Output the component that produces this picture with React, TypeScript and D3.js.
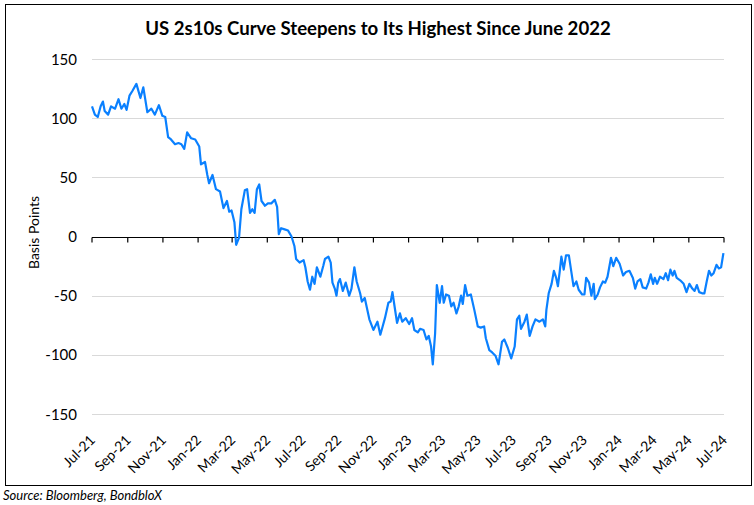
import React, { useEffect, useRef } from 'react';
import * as d3 from 'd3';

// US 2s10s spread (bp)
const spread2s10s: [string, number][] = [
  ['2021-07-01', 110], ['2021-07-06', 103], ['2021-07-11', 101], ['2021-07-16', 110], ['2021-07-20', 114],
  ['2021-07-23', 106], ['2021-07-29', 103], ['2021-08-03', 110], ['2021-08-10', 108], ['2021-08-16', 116],
  ['2021-08-21', 108], ['2021-08-26', 112], ['2021-08-30', 107], ['2021-09-04', 119], ['2021-09-09', 123],
  ['2021-09-16', 129], ['2021-09-23', 117], ['2021-09-28', 126], ['2021-10-05', 105], ['2021-10-12', 108],
  ['2021-10-18', 103], ['2021-10-25', 111], ['2021-10-31', 102], ['2021-11-05', 101], ['2021-11-10', 84],
  ['2021-11-15', 82], ['2021-11-22', 78], ['2021-11-28', 79], ['2021-12-03', 78], ['2021-12-08', 74],
  ['2021-12-13', 88], ['2021-12-20', 83], ['2021-12-27', 82],
  ['2022-01-03', 76], ['2022-01-06', 61], ['2022-01-13', 63], ['2022-01-17', 52], ['2022-01-20', 45],
  ['2022-01-26', 52], ['2022-02-01', 40], ['2022-02-08', 38], ['2022-02-14', 24], ['2022-02-20', 30],
  ['2022-02-24', 21], ['2022-02-28', 22], ['2022-03-05', 12], ['2022-03-08', -7], ['2022-03-13', -1],
  ['2022-03-17', 23], ['2022-03-23', 39], ['2022-03-27', 40], ['2022-04-01', 20], ['2022-04-05', 23],
  ['2022-04-09', 20], ['2022-04-13', 40], ['2022-04-17', 44], ['2022-04-21', 30], ['2022-04-27', 26],
  ['2022-05-02', 28], ['2022-05-08', 28], ['2022-05-14', 31], ['2022-05-18', 25], ['2022-05-21', 2],
  ['2022-05-25', 7], ['2022-05-31', 6], ['2022-06-06', 5], ['2022-06-12', 0], ['2022-06-17', -8],
  ['2022-06-20', -19], ['2022-06-26', -22], ['2022-07-03', -20], ['2022-07-06', -26], ['2022-07-10', -38],
  ['2022-07-14', -45], ['2022-07-18', -34], ['2022-07-22', -40], ['2022-07-26', -26], ['2022-08-01', -34],
  ['2022-08-06', -25], ['2022-08-09', -19], ['2022-08-15', -17], ['2022-08-19', -22], ['2022-08-22', -39],
  ['2022-08-26', -44], ['2022-08-29', -50], ['2022-09-01', -39], ['2022-09-04', -36], ['2022-09-09', -46],
  ['2022-09-14', -39], ['2022-09-20', -50], ['2022-09-24', -44], ['2022-09-29', -26], ['2022-10-03', -38],
  ['2022-10-09', -48], ['2022-10-12', -55], ['2022-10-17', -52], ['2022-10-25', -70], ['2022-11-01', -79],
  ['2022-11-08', -72], ['2022-11-13', -83], ['2022-11-17', -76], ['2022-11-21', -69], ['2022-11-27', -56],
  ['2022-12-01', -55], ['2022-12-04', -47], ['2022-12-08', -60], ['2022-12-12', -73], ['2022-12-17', -65],
  ['2022-12-21', -72], ['2022-12-27', -69],
  ['2023-01-02', -74], ['2023-01-07', -69], ['2023-01-11', -79], ['2023-01-17', -81], ['2023-01-21', -78],
  ['2023-01-27', -79], ['2023-02-01', -87], ['2023-02-05', -84], ['2023-02-09', -93], ['2023-02-12', -108],
  ['2023-02-16', -82], ['2023-02-19', -41], ['2023-02-24', -56], ['2023-02-28', -42], ['2023-03-03', -56],
  ['2023-03-07', -49], ['2023-03-12', -50], ['2023-03-16', -59], ['2023-03-20', -56], ['2023-03-25', -65],
  ['2023-03-29', -59], ['2023-04-02', -50], ['2023-04-05', -57], ['2023-04-09', -41], ['2023-04-13', -50],
  ['2023-04-19', -49], ['2023-04-25', -62], ['2023-05-01', -76], ['2023-05-06', -77], ['2023-05-12', -76],
  ['2023-05-15', -86], ['2023-05-21', -96], ['2023-05-26', -98], ['2023-06-01', -101], ['2023-06-06', -108],
  ['2023-06-12', -89], ['2023-06-16', -87], ['2023-06-22', -94], ['2023-06-28', -103], ['2023-07-04', -93],
  ['2023-07-08', -70], ['2023-07-12', -67], ['2023-07-15', -78], ['2023-07-21', -72], ['2023-07-25', -66],
  ['2023-07-30', -84], ['2023-08-04', -76], ['2023-08-09', -70], ['2023-08-16', -72], ['2023-08-22', -70],
  ['2023-08-26', -76], ['2023-08-28', -62], ['2023-09-01', -48], ['2023-09-06', -40], ['2023-09-10', -29],
  ['2023-09-14', -35], ['2023-09-17', -42], ['2023-09-20', -30], ['2023-09-23', -17], ['2023-09-27', -28],
  ['2023-10-01', -16], ['2023-10-06', -16], ['2023-10-10', -29], ['2023-10-14', -42], ['2023-10-19', -38],
  ['2023-10-23', -45], ['2023-10-29', -49], ['2023-11-02', -49], ['2023-11-05', -35], ['2023-11-10', -39],
  ['2023-11-14', -50], ['2023-11-18', -40], ['2023-11-20', -53], ['2023-11-25', -49], ['2023-11-29', -43],
  ['2023-12-04', -38], ['2023-12-08', -39], ['2023-12-12', -34], ['2023-12-18', -18], ['2023-12-22', -25],
  ['2023-12-27', -18],
  ['2024-01-02', -23], ['2024-01-08', -33], ['2024-01-13', -30], ['2024-01-19', -29], ['2024-01-25', -35],
  ['2024-01-29', -44], ['2024-02-02', -38], ['2024-02-07', -36], ['2024-02-11', -43], ['2024-02-17', -44],
  ['2024-02-21', -39], ['2024-02-25', -32], ['2024-02-29', -40], ['2024-03-03', -35], ['2024-03-07', -40],
  ['2024-03-12', -34], ['2024-03-18', -36], ['2024-03-22', -31], ['2024-03-26', -37], ['2024-03-30', -28],
  ['2024-04-03', -33], ['2024-04-06', -29], ['2024-04-10', -35], ['2024-04-16', -37], ['2024-04-22', -40],
  ['2024-04-27', -47], ['2024-05-02', -40], ['2024-05-07', -44], ['2024-05-11', -46], ['2024-05-15', -41],
  ['2024-05-19', -47], ['2024-05-24', -48], ['2024-05-28', -48], ['2024-06-01', -38], ['2024-06-05', -29],
  ['2024-06-09', -33], ['2024-06-13', -31], ['2024-06-18', -24], ['2024-06-22', -27], ['2024-06-26', -26],
  ['2024-06-30', -14],
];

const yTicks = [-150, -100, -50, 0, 50, 100, 150];

const xTickDates = [
  '2021-07-01', '2021-09-01', '2021-11-01', '2022-01-01', '2022-03-01', '2022-05-01', '2022-07-01',
  '2022-09-01', '2022-11-01', '2023-01-01', '2023-03-01', '2023-05-01', '2023-07-01', '2023-09-01',
  '2023-11-01', '2024-01-01', '2024-03-01', '2024-05-01', '2024-07-01',
];

const title = 'US 2s10s Curve Steepens to Its Highest Since June 2022';
const yLabel = 'Basis Points';
const source = 'Source: Bloomberg, BondbloX';

const W = 754;
const H = 505;
const FONT = 'Lato, "Open Sans", sans-serif';

const App: React.FC = () => {
  const svgRef = useRef<SVGSVGElement>(null);

  useEffect(() => {
    if (!svgRef.current) return;
    document.body.style.margin = '0';

    const svg = d3.select(svgRef.current);
    svg.selectAll('*').remove();

    const parse = d3.timeParse('%Y-%m-%d');
    const data = spread2s10s.map(([d, v]) => ({ date: parse(d) as Date, value: v }));
    const ticks = xTickDates.map(d => parse(d) as Date);

    const x = d3.scaleTime()
      .domain([ticks[0], ticks[ticks.length - 1]])
      .range([92, 724]);
    const y = d3.scaleLinear().domain([-150, 150]).range([414, 59]);

    // white background + chart border
    svg.append('rect').attr('width', W).attr('height', H).attr('fill', '#fff');
    svg.append('rect')
      .attr('x', 5.5).attr('y', 4.5)
      .attr('width', 746).attr('height', 481)
      .attr('fill', 'none').attr('stroke', '#000').attr('stroke-width', 1);

    // title
    svg.append('text')
      .attr('x', 378).attr('y', 35)
      .attr('text-anchor', 'middle')
      .attr('font-family', FONT).attr('font-weight', 700).attr('font-size', 18.6)
      .text(title);

    // gridlines
    svg.append('g')
      .selectAll('line')
      .data(yTicks.filter(t => t !== 0))
      .enter()
      .append('line')
      .attr('x1', x.range()[0]).attr('x2', x.range()[1])
      .attr('y1', d => Math.round(y(d)) + 0.5).attr('y2', d => Math.round(y(d)) + 0.5)
      .attr('stroke', '#d9d9d9').attr('stroke-width', 1);

    // y tick labels
    svg.append('g')
      .selectAll('text')
      .data(yTicks)
      .enter()
      .append('text')
      .attr('x', 77).attr('y', d => y(d) + 5.5)
      .attr('text-anchor', 'end')
      .attr('font-family', FONT).attr('font-size', 15).attr('fill', '#000')
      .text(d => d);

    // y axis title
    svg.append('text')
      .attr('transform', `translate(39,${y(0) - 4}) rotate(-90)`)
      .attr('text-anchor', 'middle')
      .attr('font-family', FONT).attr('font-size', 14).attr('fill', '#000')
      .text(yLabel);

    // zero axis with ticks
    const axisY = Math.round(y(0)) + 0.5;
    svg.append('line')
      .attr('x1', x.range()[0]).attr('x2', x.range()[1])
      .attr('y1', axisY).attr('y2', axisY)
      .attr('stroke', '#000').attr('stroke-width', 1.2);
    svg.append('g')
      .selectAll('line')
      .data(ticks)
      .enter()
      .append('line')
      .attr('x1', d => x(d)).attr('x2', d => x(d))
      .attr('y1', axisY).attr('y2', axisY + 5)
      .attr('stroke', '#000').attr('stroke-width', 1.2);

    // x tick labels
    const fmt = d3.timeFormat('%b-%y');
    svg.append('g')
      .selectAll('text')
      .data(ticks)
      .enter()
      .append('text')
      .attr('transform', d => `translate(${x(d) + 4},441) rotate(-45)`)
      .attr('text-anchor', 'end')
      .attr('font-family', FONT).attr('font-size', 14).attr('fill', '#000')
      .text(d => fmt(d));

    // spread line
    const line = d3.line<{ date: Date; value: number }>()
      .x(d => x(d.date))
      .y(d => y(d.value));
    svg.append('path')
      .datum(data)
      .attr('d', line)
      .attr('fill', 'none')
      .attr('stroke', '#0a80ff')
      .attr('stroke-width', 2.2)
      .attr('stroke-linejoin', 'round');

    // source
    svg.append('text')
      .attr('x', 3).attr('y', 500)
      .attr('font-family', FONT).attr('font-style', 'italic').attr('font-size', 13)
      .text(source);
  }, []);

  return <svg ref={svgRef} width={W} height={H} style={{ display: 'block' }} />;
};

export default App;
